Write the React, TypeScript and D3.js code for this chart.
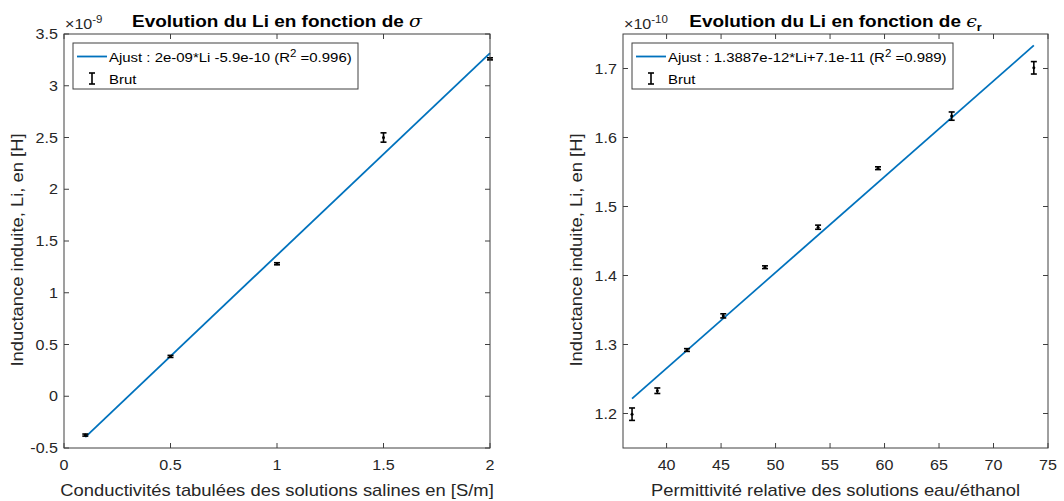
import React from "react";
import * as d3 from "d3";

// Left panel data (values in 1e-9 H)
const sigmaX = [0.1, 0.5, 1.0, 1.5, 2.0];
const sigmaY = [-0.375, 0.385, 1.28, 2.50, 3.26];
const sigmaErr = [0.01, 0.01, 0.01, 0.045, 0.01];
const sigmaFit = { slope: 1.953, intercept: -0.59 };
const sigmaXTicks = [0, 0.5, 1, 1.5, 2];
const sigmaYTicks = [-0.5, 0, 0.5, 1, 1.5, 2, 2.5, 3, 3.5];

// Right panel data (values in 1e-10 H)
const epsX = [36.83, 39.15, 41.87, 45.2, 49.03, 53.9, 59.4, 66.16, 73.7];
const epsY = [1.199, 1.233, 1.292, 1.3415, 1.412, 1.47, 1.5555, 1.631, 1.701];
const epsErr = [0.009, 0.004, 0.002, 0.003, 0.002, 0.003, 0.002, 0.006, 0.009];
const epsFit = { slope: 0.013887, intercept: 0.71 };
const epsXTicks = [40, 45, 50, 55, 60, 65, 70, 75];
const epsYTicks = [1.2, 1.3, 1.4, 1.5, 1.6, 1.7];

const FONT = "'Liberation Sans', Arial, Helvetica, sans-serif";
const TXT = "#262626";
const AX = "#404040";
const BLUE = "#0072BD";
const SX = 1.15;

type TProps = {
  x: number; y: number; size: number; anchor?: "start" | "middle" | "end";
  rot?: number; fill?: string; weight?: string; children: React.ReactNode;
};
function T({ x, y, size, anchor = "start", rot = 0, fill = TXT, weight = "normal", children }: TProps) {
  return (
    <text
      transform={`translate(${x},${y}) rotate(${rot}) scale(${SX},1)`}
      textAnchor={anchor}
      fontSize={size}
      fontWeight={weight}
      fill={fill}
      fontFamily={FONT}
    >
      {children}
    </text>
  );
}

type PanelProps = {
  left: number; right: number; top: number; bottom: number;
  xDomain: [number, number]; yDomain: [number, number];
  xs: number[]; ys: number[]; errs: number[];
  fit: { slope: number; intercept: number };
  xTicks: number[]; yTicks: number[];
  title: React.ReactNode; expo: string; legendText: React.ReactNode;
  legendW: number; xLabel: string; yLabel: string;
};

function Panel(p: PanelProps) {
  const x = d3.scaleLinear().domain(p.xDomain).range([p.left, p.right]);
  const y = d3.scaleLinear().domain(p.yDomain).range([p.bottom, p.top]);
  const fitX = [p.xs[0], p.xs[p.xs.length - 1]];
  const line = d3.line<number>().x((d) => x(d)).y((d) => y(p.fit.slope * d + p.fit.intercept));
  const tl = 5;
  const cap = 3;
  const fmt = (v: number) => String(v);
  const midX = (p.left + p.right) / 2;
  const lx = p.left + 9;
  const ly = p.top + 9;
  return (
    <g>
      <path d={line(fitX) || ""} stroke={BLUE} strokeWidth={1.8} fill="none" />
      {p.xs.map((xv, i) => {
        const cx = x(xv);
        const y1 = y(p.ys[i] - p.errs[i]);
        const y2 = y(p.ys[i] + p.errs[i]);
        return (
          <g key={i} stroke="#000" strokeWidth={1.6}>
            <line x1={cx} x2={cx} y1={y1} y2={y2} />
            <line x1={cx - cap} x2={cx + cap} y1={y1} y2={y1} />
            <line x1={cx - cap} x2={cx + cap} y1={y2} y2={y2} />
            <circle cx={cx} cy={y(p.ys[i])} r={1.5} fill="#000" stroke="none" />
          </g>
        );
      })}
      <rect x={p.left} y={p.top} width={p.right - p.left} height={p.bottom - p.top} fill="none" stroke={AX} strokeWidth={1} />
      {p.xTicks.map((t) => (
        <g key={"x" + t}>
          <line x1={x(t)} x2={x(t)} y1={p.bottom} y2={p.bottom - tl} stroke={AX} />
          <line x1={x(t)} x2={x(t)} y1={p.top} y2={p.top + tl} stroke={AX} />
          <T x={x(t)} y={p.bottom + 22} size={14} anchor="middle">{fmt(t)}</T>
        </g>
      ))}
      {p.yTicks.map((t) => (
        <g key={"y" + t}>
          <line x1={p.left} x2={p.left + tl} y1={y(t)} y2={y(t)} stroke={AX} />
          <line x1={p.right} x2={p.right - tl} y1={y(t)} y2={y(t)} stroke={AX} />
          <T x={p.left - 6} y={y(t) + 5} size={14} anchor="end">{fmt(t)}</T>
        </g>
      ))}
      <T x={p.left + 1} y={p.top - 5} size={14}>
        ×10<tspan dy={-6} fontSize={10}>{p.expo}</tspan>
      </T>
      <T x={midX} y={p.top - 7} size={16.5} anchor="middle" weight="bold" fill="#000">{p.title}</T>
      <T x={midX} y={p.bottom + 48} size={16} anchor="middle">{p.xLabel}</T>
      <T x={p.left - 41} y={(p.top + p.bottom) / 2 + 9} size={16} anchor="middle" rot={-90}>{p.yLabel}</T>
      <rect x={lx} y={ly} width={p.legendW} height={46} fill="#fff" stroke={AX} strokeWidth={1} />
      <line x1={lx + 4} x2={lx + 34} y1={ly + 13.5} y2={ly + 13.5} stroke={BLUE} strokeWidth={1.8} />
      <T x={lx + 36} y={ly + 19} size={13} fill="#000">{p.legendText}</T>
      <g stroke="#000" strokeWidth={1.6}>
        <line x1={lx + 19} x2={lx + 19} y1={ly + 30} y2={ly + 41} />
        <line x1={lx + 16} x2={lx + 22} y1={ly + 30} y2={ly + 30} />
        <line x1={lx + 16} x2={lx + 22} y1={ly + 41} y2={ly + 41} />
      </g>
      <T x={lx + 36} y={ly + 41} size={13} fill="#000">Brut</T>
    </g>
  );
}

export default function App() {
  return (
    <svg width={1064} height={501} style={{ position: "absolute", left: 0, top: 0, background: "#fff" }}>
      <rect x={0} y={0} width={1064} height={501} fill="#fff" />
      <Panel
        left={64} right={490} top={34} bottom={448}
        xDomain={[0, 2]} yDomain={[-0.5, 3.5]}
        xs={sigmaX} ys={sigmaY} errs={sigmaErr} fit={sigmaFit}
        xTicks={sigmaXTicks} yTicks={sigmaYTicks}
        title={<>Evolution du Li en fonction de <tspan fontWeight="normal" fontStyle="italic" fontFamily="'DejaVu Serif', serif">σ</tspan></>}
        expo="-9"
        legendText={<>Ajust : 2e-09*Li -5.9e-10 (R<tspan dy={-5} fontSize={10}>2</tspan><tspan dy={5}> =0.996)</tspan></>}
        legendW={285}
        xLabel="Conductivités tabulées des solutions salines en [S/m]"
        yLabel="Inductance induite, Li, en [H]"
      />
      <Panel
        left={623} right={1048} top={34} bottom={448}
        xDomain={[36, 75]} yDomain={[1.15, 1.75]}
        xs={epsX} ys={epsY} errs={epsErr} fit={epsFit}
        xTicks={epsXTicks} yTicks={epsYTicks}
        title={<>Evolution du Li en fonction de <tspan fontWeight="normal" fontStyle="italic" fontFamily="'DejaVu Serif', serif">ϵ</tspan><tspan dy={4} fontSize={11}>r</tspan></>}
        expo="-10"
        legendText={<>Ajust : 1.3887e-12*Li+7.1e-11 (R<tspan dy={-5} fontSize={10}>2</tspan><tspan dy={5}> =0.989)</tspan></>}
        legendW={321}
        xLabel="Permittivité relative des solutions eau/éthanol"
        yLabel="Inductance induite, Li, en [H]"
      />
    </svg>
  );
}
